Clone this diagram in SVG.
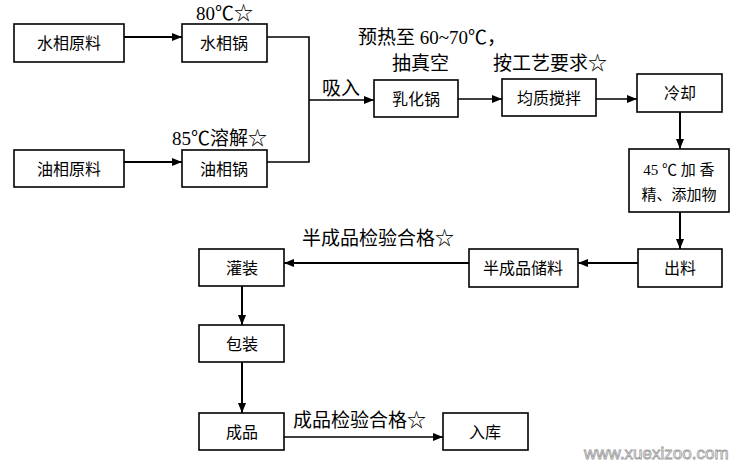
<svg xmlns="http://www.w3.org/2000/svg" width="750" height="467" viewBox="0 0 750 467">
<defs>
<marker id="ah" markerWidth="10" markerHeight="8" refX="10" refY="4" orient="auto" markerUnits="userSpaceOnUse">
<path d="M0,0 L10,4 L0,8 Z" fill="#000"/>
</marker>
<style>
.box{fill:#fff;stroke:#000;stroke-width:1.6}
.t{font-family:"Liberation Serif","Noto Sans CJK SC",serif;font-size:16px;fill:#000;text-anchor:middle;dominant-baseline:central}
.l{font-family:"Liberation Serif","Noto Sans CJK SC",serif;font-size:19px;fill:#000;dominant-baseline:central}
.c{fill:none;stroke:#000;stroke-width:1.6}
.ca{fill:none;stroke:#000;stroke-width:2;marker-end:url(#ah)}
.wm{font-family:"Liberation Sans",sans-serif;font-size:17px;fill:#fff;stroke:#999;stroke-width:0.8;dominant-baseline:central}
</style>
</defs>
<rect width="750" height="467" fill="#fff"/>
<g id="connectors">
<path class="ca" d="M124,37 H182"/>
<path class="ca" d="M124,162 H182"/>
<path class="c" d="M267,37 H309 V162 H267"/>
<path class="ca" d="M309,100 H374" style="stroke-width:1.6"/>
<path class="ca" d="M458,99 H502" style="stroke-width:1.6"/>
<path class="ca" d="M596,99 H637" style="stroke-width:1.6"/>
<path class="ca" d="M680,112 V149"/>
<path class="ca" d="M680,212 V249"/>
<path class="ca" d="M638,263 H578"/>
<path class="ca" d="M469,263 H284"/>
<path class="ca" d="M242,286 V325"/>
<path class="ca" d="M242,362 V413"/>
<path class="ca" d="M284,437 H443" style="stroke-width:1.6"/>
</g>
<g id="n-shuixiangyuanliao"><rect class="box" x="14" y="24" width="110" height="38"/><text class="t" x="69" y="43">水相原料</text></g>
<g id="n-shuixiangguo"><rect class="box" x="182" y="24" width="85" height="38"/><text class="t" x="224" y="43">水相锅</text></g>
<g id="n-youxiangyuanliao"><rect class="box" x="14" y="150" width="110" height="37"/><text class="t" x="69" y="169">油相原料</text></g>
<g id="n-youxiangguo"><rect class="box" x="182" y="150" width="85" height="37"/><text class="t" x="224" y="169">油相锅</text></g>
<g id="n-ruhuaguo"><rect class="box" x="374" y="80" width="84" height="37"/><text class="t" x="416" y="99">乳化锅</text></g>
<g id="n-junzhi"><rect class="box" x="502" y="79" width="94" height="37"/><text class="t" x="549" y="98">均质搅拌</text></g>
<g id="n-lengque"><rect class="box" x="637" y="74" width="85" height="38"/><text class="t" x="680" y="93">冷却</text></g>
<g id="n-jiaxiangjing"><rect class="box" x="629" y="149" width="100" height="63"/><text class="t" x="679" y="170" style="font-size:15px">45 ℃ 加 香</text><text class="t" x="679" y="195" style="font-size:15px">精、添加物</text></g>
<g id="n-chuliao"><rect class="box" x="638" y="249" width="84" height="38"/><text class="t" x="680" y="268">出料</text></g>
<g id="n-banchengpin"><rect class="box" x="469" y="249" width="109" height="38"/><text class="t" x="523" y="268">半成品储料</text></g>
<g id="n-guanzhuang"><rect class="box" x="199" y="249" width="85" height="37"/><text class="t" x="242" y="268">灌装</text></g>
<g id="n-baozhuang"><rect class="box" x="199" y="325" width="85" height="37"/><text class="t" x="242" y="344">包装</text></g>
<g id="n-chengpin"><rect class="box" x="199" y="413" width="85" height="37"/><text class="t" x="242" y="432">成品</text></g>
<g id="n-ruku"><rect class="box" x="443" y="413" width="85" height="37"/><text class="t" x="485" y="432">入库</text></g>
<g id="labels">
<text class="l" x="196" y="13">80℃☆</text>
<text class="l" x="172" y="138">85℃溶解☆</text>
<text class="l" x="322" y="88">吸入</text>
<text class="l" x="358" y="37">预热至 60~70℃，</text>
<text class="l" x="392" y="63">抽真空</text>
<text class="l" x="493" y="63">按工艺要求☆</text>
<text class="l" x="302" y="238">半成品检验合格☆</text>
<text class="l" x="293" y="420">成品检验合格☆</text>
<text class="wm" x="584" y="453">www.xuexizoo.com</text>
</g>
</svg>
